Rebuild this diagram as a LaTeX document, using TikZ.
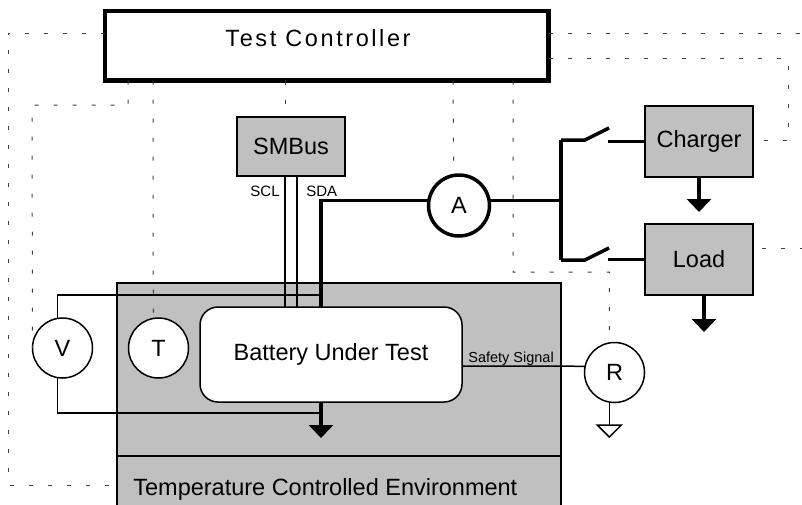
\documentclass[tikz,border=0pt]{standalone}
\usepackage{fontspec}
\setmainfont{Liberation Sans}
\newfontfamily\ctrlfont[LetterSpace=11]{Liberation Sans}
\usetikzlibrary{arrows.meta, positioning}
\definecolor{boxgray}{HTML}{C0C0C0}

\begin{document}
\begin{tikzpicture}[x=1pt, y=-1pt, >={Triangle[width=24pt,length=13pt]},
    every node/.style={font=\fontsize{23.5}{28}\selectfont, outer sep=0pt},
    unit/.style={draw, fill=boxgray, line width=1.5pt, minimum width=108pt, inner sep=0pt},
    meter/.style={draw, circle, fill=white, line width=1.5pt, minimum size=60pt, inner sep=0pt},
    wire/.style={line width=1.5pt},
    power/.style={line width=3.5pt},
    ctl/.style={black!75, line width=1pt, dash pattern=on 4pt off 15pt},
    tiny/.style={font=\fontsize{15}{18}\selectfont}]
    \useasboundingbox (0,0) rectangle (802,504);
    \node[draw, fill=boxgray, line width=1.5pt, minimum width=444pt, minimum height=173pt] (chamber) at (339,369.5) {};
    \node[draw, fill=boxgray, line width=1.5pt, minimum width=444pt, minimum height=74pt, below=0pt of chamber] (envbase) {};
    \node[anchor=base west] (envtext) at (130,495) {Temperature Controlled Environment};
    \node[draw, fill=white, rounded corners=18pt, line width=1.5pt, minimum width=262pt, minimum height=95pt] (bat) at (331,354.5) {Battery Under Test};
    \node[draw, line width=4.5pt, minimum width=443.5pt, minimum height=69.5pt] (tc) at (326.75,45.75) {};
    \node[font=\ctrlfont\fontsize{23.5}{28}\selectfont, anchor=base] (tctext) at (318,46) {Test Controller};
    \node[unit, minimum height=59pt] (sm) at (291,146.5) {SMBus};
    \node[unit, minimum height=71pt] (chg) at (699,141.5) {Charger};
    \node[unit, minimum height=71pt] (load) at (699,259.5) {Load};
    \node[meter, line width=3.5pt, minimum size=61pt] (A) at (459,205.5) {A};
    \node[meter] (V) at (62.5,348) {V};
    \node[meter] (T) at (158.5,348) {T};
    \node[meter] (R) at (614.5,372.5) {R};
    \coordinate (scl) at ([xshift=-6pt]sm.south);
    \coordinate (sda) at ([xshift=6pt]sm.south);
    \coordinate (jtop) at (561,140);
    \coordinate (jbot) at (561,260);
    \coordinate (vtop) at (321,295);
    \coordinate (vbot) at (321,413);
    \draw[wire] (scl) -- (scl |- bat.north);
    \draw[wire] (sda) -- (sda |- bat.north);
    \node[tiny, anchor=base east] (scltext) at (283,196) {SCL};
    \node[tiny, anchor=base west] (sdatext) at (303,196) {SDA};
    \draw[power] ([xshift=-10pt]bat.north) |- (A.171);
    \draw[power] (A.9) -- (A.9 -| jtop);
    \draw[power] (jtop) -- (jbot);
    \draw[power] (jtop) -- ++(24,0) -- ++(24,-12);
    \draw[power] ([xshift=-37pt]chg.west) -- (chg.west);
    \draw[power] (jbot) -- ++(24,0) -- ++(24,-12);
    \draw[power] ([xshift=-37pt]load.west) -- (load.west);
    \draw[->, power] ([xshift=-10pt]bat.south) -- ++(0,36);
    \draw[->, power] (chg.south) -- ++(0,35);
    \draw[->, power] ([xshift=5pt]load.south) -- ++(0,37);
    \draw[wire] (V.100) |- (vtop);
    \draw[wire] (V.260) |- (vbot);
    \draw[wire] ([yshift=-11.5pt]bat.east) -- (R.168);
    \node[font=\fontsize{14.5}{17}\selectfont, anchor=base west] (safety) at (465,362) {Safety Signal};
    \draw[wire] (R.260) -- ++(0,23) coordinate (gnd);
    \draw[wire] (gnd) ++(-12,0) -- ++(24,0) -- ++(-12,12) -- cycle;
    \draw[ctl] ([yshift=12.75pt]tc.west) -| (8,485) -- ([yshift=8pt]envbase.west);
    \draw[ctl] ([xshift=23pt]tc.south west) |- (32,105) -- (V.west);
    \draw[ctl] ([xshift=48pt]tc.south west) -- (T.100);
    \draw[ctl] (tc.south -| scl) -- (scl |- sm.north);
    \draw[ctl] ([xshift=348pt]tc.south west) -- (A.100);
    \draw[ctl] ([xshift=408pt]tc.south west) |- (609.3,272) -- (R.100);
    \draw[ctl] ([yshift=-12.25pt]tc.east) -| (788,140) -- ([yshift=1.5pt]chg.east);
    \draw[ctl] ([yshift=12.75pt]tc.east) -| (806,248) -- ([yshift=11.5pt]load.east);
\end{tikzpicture}
\end{document}
